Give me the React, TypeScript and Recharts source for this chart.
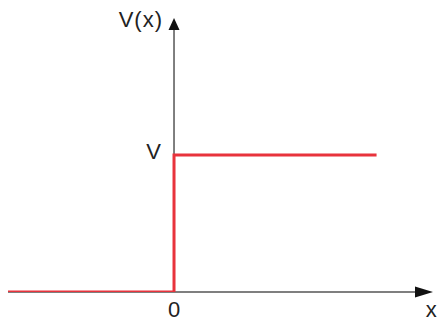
import { LineChart, Line, XAxis, YAxis, ReferenceLine, ReferenceDot } from "recharts";

// step potential V(x): 0 for x < 0, V for x >= 0
const stepX = [-1, 0, 0, 1.22];
const stepV = [0, 0, 1, 1];
const xTicks = [0, 1.55];
const xTickLabels = ["0", "x"];
const yLabelTop = "V(x)";
const yLabelStep = "V";

const data = stepX.map((x, i) => ({ x, v: stepV[i] }));

const font = "'Liberation Sans', Arial, sans-serif";
const axisColor = "#555";
const red = "#e8333c";

const VerticalArrow = (props: any) => {
  const { x1, y1, y2 } = props;
  const top = Math.min(y1, y2);
  const bottom = Math.max(y1, y2);
  return (
    <g>
      <line x1={x1} x2={x1} y1={bottom} y2={top + 11} stroke={axisColor} strokeWidth={1.5} />
      <polygon points={`${x1},${top} ${x1 - 5.5},${top + 12} ${x1 + 5.5},${top + 12}`} fill="#111" />
    </g>
  );
};

const HorizontalArrow = (props: any) => {
  const { x1, x2, y1 } = props;
  const left = Math.min(x1, x2);
  const right = Math.max(x1, x2);
  return (
    <g>
      <line x1={left} x2={right - 16} y1={y1} y2={y1} stroke={axisColor} strokeWidth={1.5} />
      <polygon points={`${right},${y1} ${right - 18},${y1 - 5.5} ${right - 18},${y1 + 5.5}`} fill="#111" />
    </g>
  );
};

const SideLabel = ({ viewBox, text, gap, dy }: any) => (
  <text
    x={viewBox.x + viewBox.width / 2 - gap}
    y={viewBox.y + viewBox.height / 2 + dy}
    textAnchor="end"
    dominantBaseline="central"
    fontSize={22}
    letterSpacing={1}
    fontFamily={font}
    fill="#222"
  >
    {text}
  </text>
);

export default function App() {
  return (
    <div style={{ position: "absolute", left: 0, top: 0, background: "#fff" }}>
      <LineChart width={438} height={322} data={data} margin={{ top: 18, right: 5, left: 8, bottom: 0 }}>
        <XAxis
          dataKey="x"
          type="number"
          domain={[-1, 1.56]}
          ticks={xTicks}
          interval={0}
          allowDataOverflow
          height={30}
          axisLine={false}
          tickLine={false}
          tickMargin={3}
          tickFormatter={(v: number) => xTickLabels[xTicks.indexOf(v)] ?? ""}
          tick={{ fontSize: 22, fontFamily: font, fill: "#222" }}
        />
        <YAxis type="number" domain={[0, 2]} hide allowDataOverflow />
        <ReferenceLine y={0} shape={HorizontalArrow} />
        <ReferenceLine x={0} shape={VerticalArrow} />
        <Line
          type="linear"
          dataKey="v"
          stroke={red}
          strokeWidth={3}
          strokeLinejoin="miter"
          dot={false}
          isAnimationActive={false}
        />
        <ReferenceDot x={0} y={2} r={0} fill="none" stroke="none" label={<SideLabel text={yLabelTop} gap={11} dy={1} />} />
        <ReferenceDot x={0} y={1} r={0} fill="none" stroke="none" label={<SideLabel text={yLabelStep} gap={12} dy={-4} />} />
      </LineChart>
    </div>
  );
}
